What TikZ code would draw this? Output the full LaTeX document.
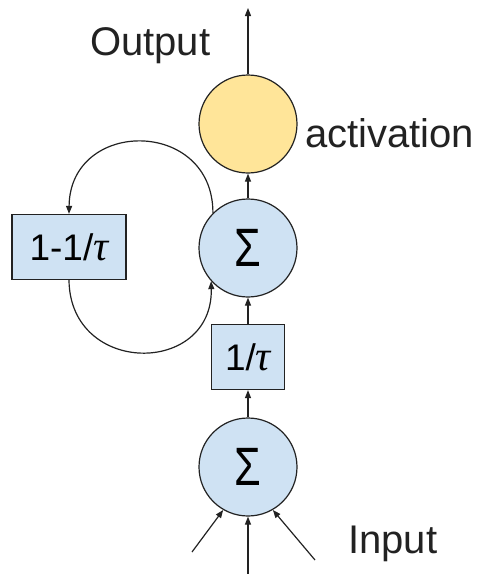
\documentclass[tikz,border=0pt]{standalone}
\usepackage{fontspec}
\setmainfont{Liberation Sans}
\newfontfamily\taufont{Liberation Serif}
\usetikzlibrary{arrows.meta}
\definecolor{lblue}{HTML}{CFE2F3}
\definecolor{lyellow}{HTML}{FFE599}
\definecolor{edge}{HTML}{222222}
\tikzset{
  x=1pt,y=-1pt,
  neuron/.style={circle,draw=edge,line width=1.2pt,minimum size=98pt,inner sep=0pt},
  gainbox/.style={rectangle,draw=edge,line width=1.2pt,fill=lblue,minimum height=65pt,inner sep=0pt,font=\fontsize{37}{44}\selectfont},
  lbl/.style={inner sep=0pt,font=\fontsize{40}{48}\selectfont,text=edge},
  conn/.style={draw=edge,line width=1.2pt,-{Triangle[length=8pt,width=6pt]}}
}
\newcommand{\sumsign}{{\fontsize{54}{60}\selectfont\scalebox{0.8}[1]{Σ}}}
\newcommand{\tauglyph}{{\taufont\itshape\fontsize{42}{48}\selectfont τ}}
\begin{document}
\begin{tikzpicture}
\useasboundingbox (0,0) rectangle (478,574);
\node[neuron,fill=lyellow] (act) at (248,124) {};
\node[neuron,fill=lblue] (s1) at (248,248) {\sumsign};
\node[gainbox,minimum width=114pt] (fb) at (69,247) {1-1/\tauglyph};
\node[gainbox,minimum width=73pt] (g) at (248,357) {1/\tauglyph};
\node[neuron,fill=lblue] (s2) at (248,467) {\sumsign};
\coordinate (out) at (248,8);
\coordinate (i1) at (192,552);
\coordinate (i2) at (248,574);
\coordinate (i3) at (315,560);
\node[lbl,anchor=base west] (tout) at (90,55) {Output};
\node[lbl,anchor=base west] (tact) at (305,147) {activation};
\node[lbl,anchor=base west] (tin) at (348,553) {Input};
\draw[conn] (act) -- (out);
\draw[conn] (s1) -- (act);
\draw[conn] (g) -- (s1);
\draw[conn] (s2) -- (g);
\draw[conn] (i1) -- (s2.240);
\draw[conn] (i2) -- (s2);
\draw[conn] (i3) -- (s2.-60);
\draw[conn] (s1.135) .. controls (213,118) and (70,118) .. (fb.north);
\draw[conn] (fb.south) .. controls (70,376) and (213,376) .. (s1.222);
\end{tikzpicture}
\end{document}
